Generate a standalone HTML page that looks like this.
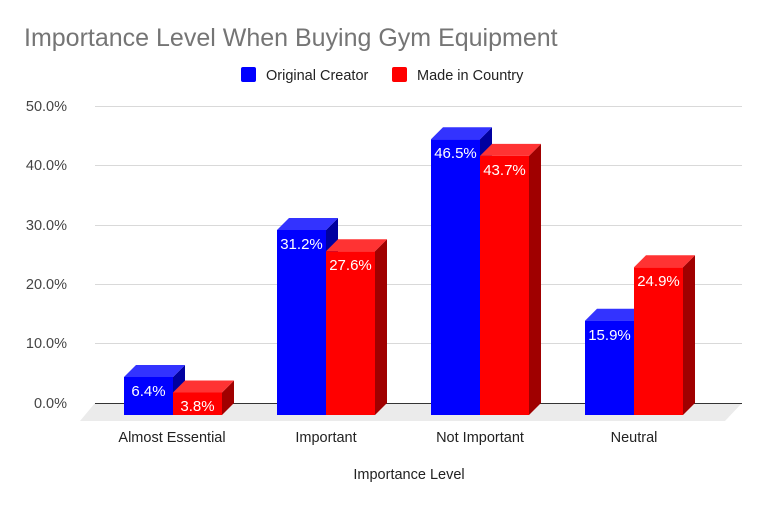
<!DOCTYPE html>
<html><head><meta charset="utf-8"><style>
body{margin:0;background:#fff}
svg{display:block;font-family:"Liberation Sans",Arial,sans-serif}
</style></head><body>
<svg width="768" height="507" viewBox="0 0 768 507">
<rect width="768" height="507" fill="#fff"/>
<text x="24" y="46" font-size="25" fill="#757575">Importance Level When Buying Gym Equipment</text>
<rect x="241" y="67" width="15" height="15" rx="2" fill="#0000ff"/>
<text x="266" y="80" font-size="14.5" fill="#222">Original Creator</text>
<rect x="392" y="67" width="15" height="15" rx="2" fill="#ff0000"/>
<text x="417" y="80" font-size="14.5" fill="#222">Made in Country</text>
<g stroke="#d9d9d9" stroke-width="1">
<line x1="95" y1="106.5" x2="742" y2="106.5"/>
<line x1="95" y1="165.5" x2="742" y2="165.5"/>
<line x1="95" y1="225.5" x2="742" y2="225.5"/>
<line x1="95" y1="284.5" x2="742" y2="284.5"/>
<line x1="95" y1="343.5" x2="742" y2="343.5"/>
</g>
<g font-size="14.5" fill="#444" text-anchor="end">
<text x="67" y="111">50.0%</text>
<text x="67" y="170">40.0%</text>
<text x="67" y="230">30.0%</text>
<text x="67" y="289">20.0%</text>
<text x="67" y="348">10.0%</text>
<text x="67" y="408">0.0%</text>
</g>
<polygon points="95,403 742,403 725,421 80,421" fill="#ebebeb"/>
<line x1="95" y1="403.5" x2="742" y2="403.5" stroke="#333" stroke-width="1"/>

<polygon points="173,377 185,365 185,403 173,415" fill="#0000a0"/>
<polygon points="124,377 136,365 185,365 173,377" fill="#3333ff"/>
<rect x="124" y="377" width="49" height="38" fill="#0000ff"/>
<polygon points="222,392.5 234,380.5 234,403 222,415" fill="#a00000"/>
<polygon points="173,392.5 185,380.5 234,380.5 222,392.5" fill="#ff3333"/>
<rect x="173" y="392.5" width="49" height="22.5" fill="#ff0000"/>

<polygon points="326,230 338,218 338,403 326,415" fill="#0000a0"/>
<polygon points="277,230 289,218 338,218 326,230" fill="#3333ff"/>
<rect x="277" y="230" width="49" height="185" fill="#0000ff"/>
<polygon points="375,251.3 387,239.3 387,403 375,415" fill="#a00000"/>
<polygon points="326,251.3 338,239.3 387,239.3 375,251.3" fill="#ff3333"/>
<rect x="326" y="251.3" width="49" height="163.7" fill="#ff0000"/>

<polygon points="480,139.3 492,127.3 492,403 480,415" fill="#0000a0"/>
<polygon points="431,139.3 443,127.3 492,127.3 480,139.3" fill="#3333ff"/>
<rect x="431" y="139.3" width="49" height="275.7" fill="#0000ff"/>
<polygon points="529,155.9 541,143.9 541,403 529,415" fill="#a00000"/>
<polygon points="480,155.9 492,143.9 541,143.9 529,155.9" fill="#ff3333"/>
<rect x="480" y="155.9" width="49" height="259.1" fill="#ff0000"/>

<polygon points="634,320.7 646,308.7 646,403 634,415" fill="#0000a0"/>
<polygon points="585,320.7 597,308.7 646,308.7 634,320.7" fill="#3333ff"/>
<rect x="585" y="320.7" width="49" height="94.3" fill="#0000ff"/>
<polygon points="683,267.3 695,255.3 695,403 683,415" fill="#a00000"/>
<polygon points="634,267.3 646,255.3 695,255.3 683,267.3" fill="#ff3333"/>
<rect x="634" y="267.3" width="49" height="147.7" fill="#ff0000"/>

<g font-size="15" fill="#fff" text-anchor="middle">
<text x="148.5" y="396">6.4%</text>
<text x="197.5" y="411">3.8%</text>
<text x="301.5" y="249">31.2%</text>
<text x="350.5" y="270">27.6%</text>
<text x="455.5" y="158">46.5%</text>
<text x="504.5" y="175">43.7%</text>
<text x="609.5" y="340">15.9%</text>
<text x="658.5" y="286">24.9%</text>
</g>

<g font-size="14.5" fill="#222" text-anchor="middle">
<text x="172" y="442">Almost Essential</text>
<text x="326" y="442">Important</text>
<text x="480" y="442">Not Important</text>
<text x="634" y="442">Neutral</text>
<text x="409" y="479">Importance Level</text>
</g>
</svg>
</body></html>
